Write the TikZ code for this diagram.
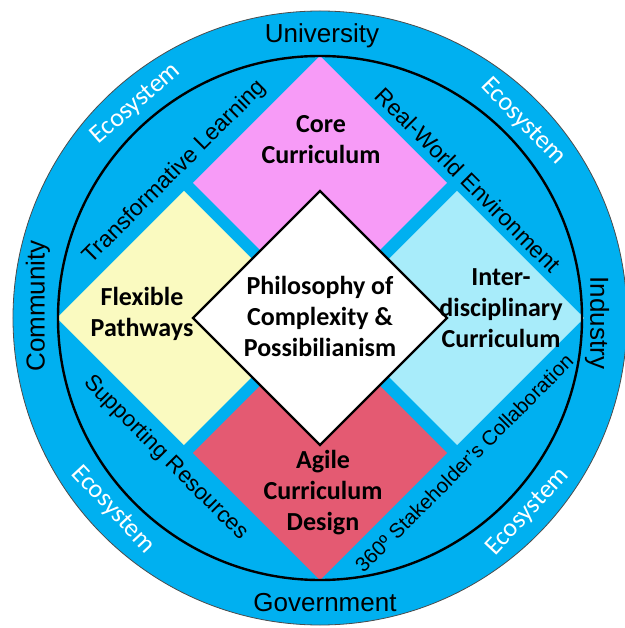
\documentclass[tikz,border=0pt]{standalone}
\usepackage{fontspec}
\setmainfont{Carlito}
\newfontfamily\arialfont{Liberation Sans}
\usetikzlibrary{shapes.geometric}

\definecolor{ringblue}{RGB}{0,176,240}
\definecolor{corepink}{RGB}{247,155,247}
\definecolor{flexyellow}{RGB}{250,250,192}
\definecolor{intercyan}{RGB}{168,236,250}
\definecolor{agilered}{RGB}{228,90,114}

\tikzset{
    quadnode/.style={
        diamond,
        aspect=1,
        minimum width=254pt, % 对角线长度
        minimum height=254pt,
        inner sep=0,
        outer sep=0
    },
    centrenode/.style={
        quadnode,
        draw=black, % 黑色边框
        fill=white,
        line width=2.2pt
    },
    boxlabel/.style={
        align=center,
        inner sep=0,
        font=\bfseries\fontsize{26}{31}\selectfont
    },
    ringlabel/.style={
        inner sep=0,
        font=\arialfont\fontsize{26}{31}\selectfont
    },
    pathlabel/.style={
        inner sep=0,
        font=\arialfont\fontsize{23}{27}\selectfont
    },
    ecolabel/.style={
        inner sep=0,
        text=white, % 白色文字
        font=\fontsize{26}{30}\selectfont
    }
}

\begin{document}
\begin{tikzpicture}[x=1pt, y=1pt]
    \useasboundingbox (-320,-310) rectangle (304,318);

    % 外环与内圈
    \node[circle, minimum size=614pt, inner sep=0, fill=ringblue,
          draw=black!70, line width=0.8pt] (ecoring) at (0,0) {};

    % 四个彩色方块
    \node[quadnode, fill=corepink]   (core)  at (0,135)  {};
    \node[quadnode, fill=flexyellow] (flex)  at (-136,0) {};
    \node[quadnode, fill=intercyan]  (inter) at (137,0)  {};
    \node[quadnode, fill=agilered]   (agile) at (0,-135) {};

    \node[circle, minimum size=524pt, inner sep=0, draw=black,
          line width=2.4pt] (innerring) at (0,0) {};

    \node[centrenode] (philo) at (0,0) {};

    % 方块文字
    \node[boxlabel] (philotext) at (0,2) {Philosophy of\\Complexity \&\\Possibilianism};
    \node[boxlabel] (coretext)  at (1,178) {Core\\Curriculum};
    \node[boxlabel] (flextext)  at (-178,4) {Flexible\\Pathways};
    \node[boxlabel] (intertext) at (181,10) {Inter-\\disciplinary\\Curriculum};
    \node[boxlabel] (agiletext) at (3,-175) {Agile\\Curriculum\\Design};

    % 外环文字
    \node[ringlabel] (univ) at (2,282.5) {University};
    \node[ringlabel] (gov)  at (5,-285) {Government};
    \node[ringlabel, rotate=90]  (comm) at (-282,12) {Community};
    \node[ringlabel, rotate=-90] (ind)  at (277,-5) {Industry};

    \node[ecolabel, rotate=41]  (ecoNW) at (-184,214) {Ecosystem};
    \node[ecolabel, rotate=-46] (ecoNE) at (203,196) {Ecosystem};
    \node[ecolabel, rotate=-47] (ecoSW) at (-207,-192) {Ecosystem};
    \node[ecolabel, rotate=47]  (ecoSE) at (208,-194) {Ecosystem};

    % 内环文字
    \node[pathlabel, rotate=45]  (learn)   at (-145,146) {Transformative Learning};
    \node[pathlabel, rotate=-45] (realw)   at (148,138) {Real-World Environment};
    \node[pathlabel, rotate=-45, font=\arialfont\fontsize{22.5}{26}\selectfont]
        (support) at (-154,-140) {Supporting Resources};
    \node[pathlabel, rotate=45, font=\arialfont\fontsize{20.5}{25}\selectfont]
        (collab)  at (144,-145) {360º Stakeholder’s Collaboration};
\end{tikzpicture}
\end{document}
